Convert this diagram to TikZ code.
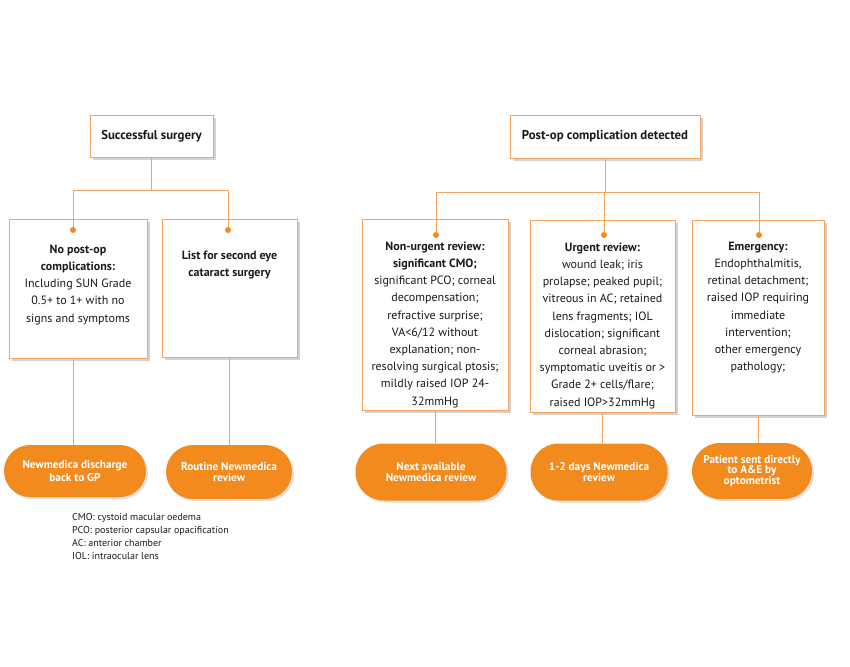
\documentclass[tikz,border=0pt]{standalone}
\usepackage{fontspec}
\setmainfont{PT Sans}
\usetikzlibrary{positioning,shadows}
\definecolor{nmline}{HTML}{F2A460}
\definecolor{nmfill}{HTML}{F28A1E}
\definecolor{nmtext}{HTML}{1A1A1A}

\begin{document}
\begin{tikzpicture}[x=1pt,y=-1pt,
  every node/.style={text=nmtext},
  stepbox/.style={draw=nmline, fill=white, line width=0.8pt, inner sep=0pt,
    drop shadow={shadow xshift=2.5pt, shadow yshift=-2.5pt, opacity=0.35, fill=gray}},
  headbox/.style={stepbox, font=\fontsize{12.8}{15}\selectfont\bfseries},
  boxtext/.style={align=center, inner sep=0pt, font=\fontsize{12}{17.2}\selectfont},
  outcome/.style={fill=nmfill, draw=none, text=white, align=center, inner sep=0pt,
    font=\fontsize{11.3}{10.5}\selectfont\bfseries,
    drop shadow={shadow xshift=2pt, shadow yshift=-2pt, opacity=0.25, fill=gray}},
  conn/.style={draw=nmline, line width=0.8pt},
  dot/.style={circle, fill=nmfill, inner sep=0pt, minimum size=6pt}]
\useasboundingbox (0,0) rectangle (850,666);

% top level
\node[headbox, minimum width=123pt, minimum height=42pt] (succ) at (151.5,136) {Successful surgery};
\node[headbox, minimum width=190pt, minimum height=43pt] (comp) at (605,136.5) {Post-op complication detected};

% second level boxes
\node[stepbox, minimum width=138pt, minimum height=139pt] (nocomp) at (78,288.5) {};
\node[stepbox, minimum width=135pt, minimum height=138pt] (second) at (229.5,288) {};
\node[stepbox, minimum width=146pt, minimum height=191pt] (nonurg) at (435,314.5) {};
\node[stepbox, minimum width=145pt, minimum height=192pt] (urgent) at (602.5,316) {};
\node[stepbox, minimum width=132pt, minimum height=195pt] (emerg) at (758,317.5) {};

\node[boxtext, below=26pt of nocomp.north] (nocomptxt) {\textbf{No post-op}\\\textbf{complications:}\\Including SUN Grade\\0.5+ to 1+ with no\\signs and symptoms};
\node[boxtext, below=32pt of second.north] (secondtxt) {\textbf{List for second eye}\\\textbf{cataract surgery}};
\node[boxtext, below=23pt of nonurg.north] (nonurgtxt) {\textbf{Non-urgent review:}\\\textbf{significant CMO;}\\significant PCO; corneal\\decompensation;\\refractive surprise;\\VA<6/12 without\\explanation; non-\\resolving surgical ptosis;\\mildly raised IOP 24-\\32mmHg};
\node[boxtext, below=23pt of urgent.north] (urgenttxt) {\textbf{Urgent review:}\\wound leak; iris\\prolapse; peaked pupil;\\vitreous in AC; retained\\lens fragments; IOL\\dislocation; significant\\corneal abrasion;\\symptomatic uveitis or >\\Grade 2+ cells/flare;\\raised IOP>32mmHg};
\node[boxtext, below=22pt of emerg.north] (emergtxt) {\textbf{Emergency:}\\Endophthalmitis,\\retinal detachment;\\raised IOP requiring\\immediate\\intervention;\\other emergency\\pathology;};

% dots
\node[dot] (d1) at (73,230) {};
\node[dot] (d2) at (228,230) {};
\node[dot] (d3) at (436,235) {};
\node[dot] (d4) at (604,235) {};
\node[dot] (d5) at (759,235) {};

% outcomes
\node[outcome, minimum width=142pt, minimum height=52pt, rounded corners=26pt,
  font=\fontsize{11.3}{13}\selectfont\bfseries] (gp) at (75,471) {Newmedica discharge\\back to GP};
\node[outcome, minimum width=126pt, minimum height=54pt, rounded corners=27pt] (routine) at (229,472) {Routine Newmedica\\review};
\node[outcome, minimum width=151pt, minimum height=57pt, rounded corners=28pt] (nextrev) at (431,472) {Next available\\Newmedica review};
\node[outcome, minimum width=137pt, minimum height=57pt, rounded corners=28pt] (days) at (599,472) {1-2 days Newmedica\\review};
\node[outcome, minimum width=120pt, minimum height=56pt, rounded corners=28pt] (ae) at (752,471) {Patient sent directly\\to A\&E by\\optometrist};

% connectors
\coordinate (lsplit) at (151.5,190);
\coordinate (rsplit) at (605,192);
\draw[conn] (succ.south) -- (lsplit) -| (d1);
\draw[conn] (lsplit) -| (d2);
\draw[conn] (comp.south) -- (rsplit) -| (d3);
\draw[conn] (rsplit) -| (d4);
\draw[conn] (rsplit) -| (d5);
\draw[conn] (d1 |- nocomp.south) -- (d1 |- gp.north);
\draw[conn] (second.south) -- (second.south |- routine.north);
\draw[conn] (nonurg.south) -- (nonurg.south |- nextrev.north);
\draw[conn] (urgent.south) -- (urgent.south |- days.north);
\draw[conn] (emerg.south) -- (emerg.south |- ae.north);

% abbreviations
\node[align=left, anchor=north west, inner sep=0pt, font=\fontsize{10}{13}\selectfont] (legend) at (72,513) {CMO: cystoid macular oedema\\PCO: posterior capsular opacification\\AC: anterior chamber\\IOL: intraocular lens};
\end{tikzpicture}
\end{document}
